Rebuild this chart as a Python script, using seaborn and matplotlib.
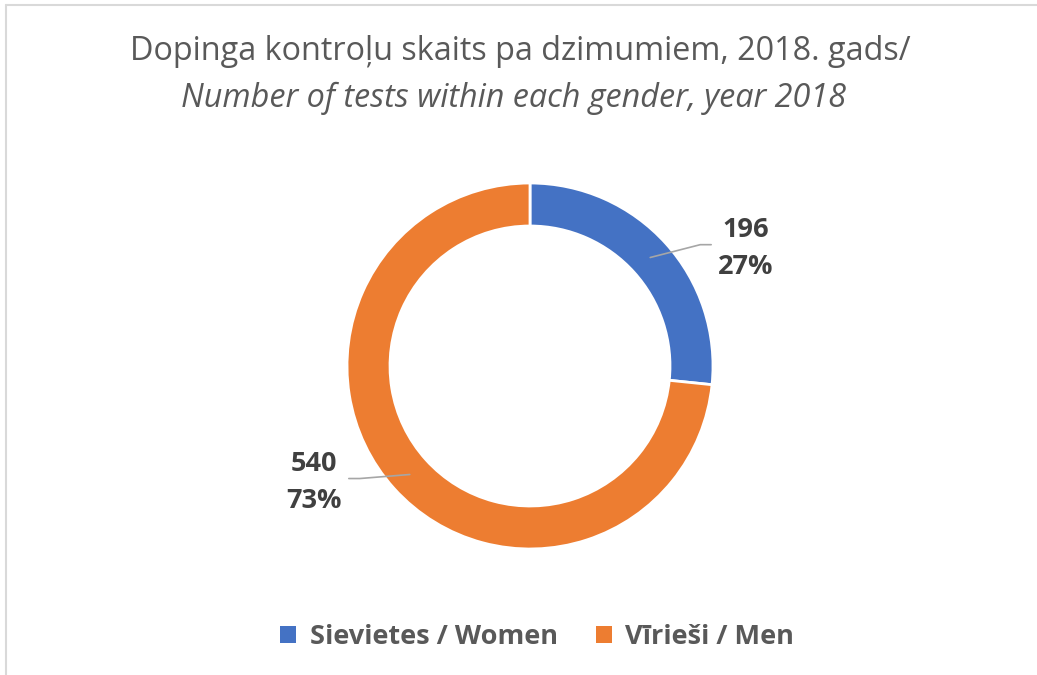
import numpy as np
import matplotlib
matplotlib.use("Agg")
import matplotlib.pyplot as plt
import seaborn as sns
from matplotlib.patches import Patch
from matplotlib.lines import Line2D

# Data
categories = ["Sievietes / Women", "Vīrieši / Men"]
values = [196, 540]
colors = ["#4472C4", "#ED7D31"]
title_lv = "Dopinga kontroļu skaits pa dzimumiem, 2018. gads/"
title_en = "Number of tests within each gender, year 2018"

sns.set_theme(style="white")
plt.rcParams["font.family"] = ["Open Sans", "DejaVu Sans"]

fig = plt.figure(figsize=(10.37, 6.75), dpi=100)
ax = fig.add_axes([347 / 1037, 1 - 549 / 675, 366 / 1037, 366 / 675])

wedges, _ = ax.pie(values, colors=colors, startangle=90, counterclock=False,
                   radius=1, wedgeprops=dict(width=0.235, edgecolor="white", linewidth=2))
ax.set_xlim(-1, 1)
ax.set_ylim(-1, 1)
ax.axis("off")

# Data labels with leader lines
total = sum(values)
side = [1, -1]
for w, v, s in zip(wedges, values, side):
    ang = np.deg2rad((w.theta1 + w.theta2) / 2)
    ax0, ay0 = 0.885 * np.cos(ang), 0.885 * np.sin(ang)
    ky = ay0 + (0.07 if s > 0 else -0.022)
    ax.plot([ax0, 0.93 * s, 0.99 * s], [ay0, ky, ky], color="#A6A6A6", lw=1.2,
            clip_on=False)
    ax.text(1.18 * s, ky - 0.02, f"{v}\n{v / total:.0%}", ha="center", va="center",
            fontsize=19.5, fontweight="bold", color="#404040", linespacing=1.55)

# Title
fig.text(0.502, 1 - 52 / 675, title_lv, ha="center", va="center", fontsize=23.3,
         color="#595959")
fig.text(0.495, 1 - 98 / 675, title_en, ha="center", va="center", fontsize=23.3,
         color="#595959", style="italic")

# Legend
handles = [Patch(facecolor=c, edgecolor="none") for c in colors]
fig.legend(handles, categories, loc="center", bbox_to_anchor=(537 / 1037, 1 - 637 / 675),
           ncol=2, frameon=False, handlelength=0.6, handleheight=0.6, handletextpad=0.5,
           columnspacing=1.4, prop=dict(size=19.5, weight="bold"), labelcolor="#595959")

# Chart area border (left and top)
fig.add_artist(Line2D([6 / 1037, 6 / 1037], [0, 1 - 5 / 675], transform=fig.transFigure,
                      color="#D9D9D9", lw=1.5))
fig.add_artist(Line2D([6 / 1037, 1], [1 - 5 / 675, 1 - 5 / 675], transform=fig.transFigure,
                      color="#D9D9D9", lw=1.5))

fig.savefig("out.png", dpi=100, facecolor="white")
